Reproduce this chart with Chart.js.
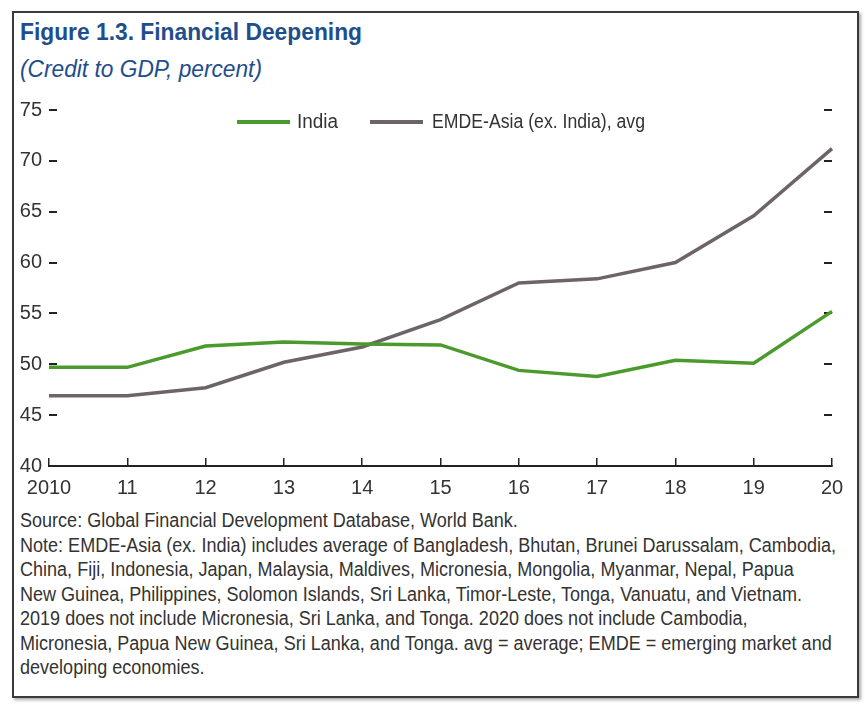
<!DOCTYPE html>
<html>
<head>
<meta charset="utf-8">
<script src="https://cdn.jsdelivr.net/npm/chart.js@4.4.1/dist/chart.umd.min.js"></script>
<style>
	body {
		margin: 0;
		background: #fff;
		font-family: "Liberation Sans", Arial, sans-serif;
		color: #333;
	}
	#frame {
		position: absolute;
		left: 12px;
		top: 11px;
		width: 843px;
		height: 683px;
		border: 2px solid #3a3a3a;
		box-shadow: 2px 2px 3px #aaa;
	}
	.fit {
		position: absolute;
		display: inline-block;
		white-space: nowrap;
		transform-origin: 0 0;
	}
	#title {
		left: 20px;
		top: 19px;
		font-size: 23px;
		font-weight: bold;
		color: #1f4e8c;
	}
	#subtitle {
		left: 20px;
		top: 56px;
		font-size: 23.5px;
		font-style: italic;
		color: #1f4e8c;
	}
	#chartBox {
		position: absolute;
		left: 0;
		top: 92px;
		width: 865px;
		height: 410px;
	}
	.swatch {
		position: absolute;
		top: 120px;
		width: 53px;
		height: 4px;
	}
	.legendText {
		top: 110px;
		font-size: 20px;
		color: #333;
	}
	#notes {
		left: 20px;
		top: 508px;
		font-size: 20px;
		line-height: 24.5px;
	}
	#notes span {
		display: block;
	}
</style>
</head>
<body>
<div id="frame"></div>
<div id="title" class="fit">Figure 1.3. Financial Deepening</div>
<div id="subtitle" class="fit">(Credit to GDP, percent)</div>
<div id="chartBox"><canvas id="chart"></canvas></div>
<div id="legend"></div>
<div id="notes" class="fit">
	<span>Source: Global Financial Development Database, World Bank.</span>
	<span id="longLine">Note: EMDE-Asia (ex. India) includes average of Bangladesh, Bhutan, Brunei Darussalam, Cambodia,</span>
	<span>China, Fiji, Indonesia, Japan, Malaysia, Maldives, Micronesia, Mongolia, Myanmar, Nepal, Papua</span>
	<span>New Guinea, Philippines, Solomon Islands, Sri Lanka, Timor-Leste, Tonga, Vanuatu, and Vietnam.</span>
	<span>2019 does not include Micronesia, Sri Lanka, and Tonga. 2020 does not include Cambodia,</span>
	<span>Micronesia, Papua New Guinea, Sri Lanka, and Tonga. avg = average; EMDE = emerging market and</span>
	<span>developing economies.</span>
</div>
<script>
let years = ["2010", "11", "12", "13", "14", "15", "16", "17", "18", "19", "20"];
let india = [49.7, 49.7, 51.8, 52.2, 52.0, 51.9, 49.4, 48.8, 50.4, 50.1, 55.2];
let emdeAsia = [46.9, 46.9, 47.7, 50.2, 51.7, 54.4, 58.0, 58.4, 60.0, 64.6, 71.2];
let seriesNames = ["India", "EMDE-Asia (ex. India), avg"];
let seriesColors = ["#4b9a2c", "#6d6466"];

Chart.defaults.font.family = '"Liberation Sans", Arial, sans-serif';
Chart.defaults.font.size = 20;
Chart.defaults.color = "#333";

let data = {
	labels: years,
	datasets: [
		{
			label: seriesNames[0],
			data: india,
			borderColor: seriesColors[0],
			backgroundColor: seriesColors[0],
		},
		{
			label: seriesNames[1],
			data: emdeAsia,
			borderColor: seriesColors[1],
			backgroundColor: seriesColors[1],
		},
	],
};

// y axes: fixed width and no extra label overflow, so the plot lands where the original is
function fixY(width) {
	return (s) => {
		s.width = width;
		s.paddingTop = 0;
		s.paddingBottom = 0;
	};
}

let config = {
	type: "line",
	data: data,
	options: {
		responsive: true,
		maintainAspectRatio: false,
		animation: false,
		layout: {
			padding: { top: 18, left: 0, right: 0, bottom: 0 },
		},
		plugins: {
			legend: { display: false },
			tooltip: { enabled: false },
		},
		elements: {
			line: { borderWidth: 3.5, tension: 0 },
			point: { radius: 0 },
		},
		scales: {
			x: {
				grid: {
					drawOnChartArea: false,
					tickLength: -8,
					color: "#222",
					lineWidth: 1.5,
				},
				border: { display: true, color: "#222", width: 2 },
				ticks: { padding: 18, maxRotation: 0, autoSkip: false },
				afterFit: (s) => {
					s.height = 36;
					s.paddingLeft = 0;
					s.paddingRight = 0;
				},
			},
			y: {
				min: 40,
				max: 75,
				ticks: { stepSize: 5, padding: 15 },
				grid: {
					drawOnChartArea: false,
					tickLength: -8,
					color: "#222",
					lineWidth: 2,
				},
				border: { display: false },
				afterFit: fixY(49),
			},
			y2: {
				position: "right",
				min: 40,
				max: 75,
				ticks: { stepSize: 5, display: false },
				grid: {
					drawOnChartArea: false,
					tickLength: -8,
					color: "#222",
					lineWidth: 2,
				},
				border: { display: false },
				afterFit: fixY(33),
			},
		},
	},
};

const chart = new Chart(document.getElementById("chart"), config);

// the original type is a condensed face; squeeze regular text to the same width
function squeeze(el, measureEl, target) {
	let r = document.createRange();
	r.selectNodeContents(measureEl);
	let w = r.getBoundingClientRect().width;
	el.style.transform = "scaleX(" + (target / w) + ")";
}

// legend sits inside the plot, so build it in html
let legendSpots = [[237, 297, 41], [370, 432, 213]]; // swatch x, text x, text width
let legend = document.getElementById("legend");
seriesNames.forEach((name, i) => {
	let sw = document.createElement("div");
	sw.className = "swatch";
	sw.style.left = legendSpots[i][0] + "px";
	sw.style.background = seriesColors[i];
	legend.appendChild(sw);
	let txt = document.createElement("div");
	txt.className = "fit legendText";
	txt.style.left = legendSpots[i][1] + "px";
	txt.textContent = name;
	legend.appendChild(txt);
	squeeze(txt, txt, legendSpots[i][2]);
});

squeeze(document.getElementById("title"), document.getElementById("title"), 342);
squeeze(document.getElementById("subtitle"), document.getElementById("subtitle"), 242);
squeeze(document.getElementById("notes"), document.getElementById("longLine"), 816);
</script>
</body>
</html>
